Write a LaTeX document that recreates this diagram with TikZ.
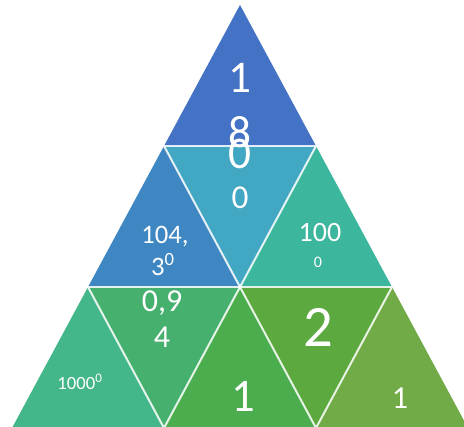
\documentclass[tikz,border=0pt]{standalone}
\usepackage{fontspec}
\setmainfont{Carlito}
\usetikzlibrary{positioning}
\definecolor{tipblue}{HTML}{4472C4}
\definecolor{midblue}{HTML}{3E87C3}
\definecolor{midcyan}{HTML}{42A7C3}
\definecolor{midteal}{HTML}{3DB69E}
\definecolor{lowmint}{HTML}{44B78A}
\definecolor{lowjade}{HTML}{46B06E}
\definecolor{lowgreen}{HTML}{4BAD4E}
\definecolor{lowleaf}{HTML}{5BA93F}
\definecolor{lowolive}{HTML}{70AB47}

\begin{document}
\begin{tikzpicture}[
  x=0.75pt, y=-0.75pt,
  digit/.style={text=white, inner sep=0pt, align=center},
  seam/.style={draw=white, line width=1.5pt, opacity=0.85}
]
\useasboundingbox (0,0) rectangle (464,427);
\clip (0,0) rectangle (464,427);

% corners of the pyramid grid, row r, index i
\foreach \r in {0,...,3}{
  \foreach \i in {0,...,\r}{
    \coordinate (p\r\i) at ({240-76*\r+152*\i}, {5+141*\r});
  }
}

% tiles
\fill[tipblue] (p00) -- (p10) -- (p11) -- cycle;
\fill[midblue] (p10) -- (p20) -- (p21) -- cycle;
\fill[midcyan] (p10) -- (p11) -- (p21) -- cycle;
\fill[midteal] (p11) -- (p21) -- (p22) -- cycle;
\fill[lowmint] (p20) -- (p30) -- (p31) -- cycle;
\fill[lowjade] (p20) -- (p21) -- (p31) -- cycle;
\fill[lowgreen] (p21) -- (p31) -- (p32) -- cycle;
\fill[lowleaf] (p21) -- (p22) -- (p32) -- cycle;
\fill[lowolive] (p22) -- (p32) -- (p33) -- cycle;

% texts
\node[digit, font=\fontsize{34}{34}\selectfont] (topone) at (240,78) {1};
\node[digit, font=\fontsize{34}{34}\selectfont] (topeight) at (240,132) {8};
\node[digit, font=\fontsize{34}{34}\selectfont] (topzero) at (240,154) {0};
\node[digit, font=\fontsize{25}{25}\selectfont] (midzero) at (240,198) {0};
\node[digit, font=\fontsize{20}{20}\selectfont] (leftnum) at (165,237) {104,};
\node[digit, font=\fontsize{20}{20}\selectfont] (leftexp) at (163,265) {3\textsuperscript{0}};
\node[digit, font=\fontsize{21}{21}\selectfont] (rightnum) at (320,233) {100};
\node[digit, font=\fontsize{12}{12}\selectfont] (rightexp) at (318,262) {0};
\node[digit, font=\fontsize{14}{14}\selectfont] (cornernum) at (80,382) {1000\textsuperscript{0}};
\node[digit, font=\fontsize{24}{24}\selectfont] (decnum) at (162,303) {0,9};
\node[digit, font=\fontsize{24}{24}\selectfont] (decfour) at (162,337) {4};
\node[digit, font=\fontsize{35}{35}\selectfont] (baseone) at (243,396) {1};
\node[digit, font=\fontsize{44}{44}\selectfont] (basetwo) at (318,327) {2};
\node[digit, font=\fontsize{24}{24}\selectfont] (edgeone) at (400,398) {1};

% seams between tiles
\draw[seam] (p10) -- (p11);
\draw[seam] (p20) -- (p22);
\draw[seam] (p10) -- (p21) -- (p11);
\draw[seam] (p20) -- (p31) -- (p21) -- (p32) -- (p22);
\end{tikzpicture}
\end{document}
